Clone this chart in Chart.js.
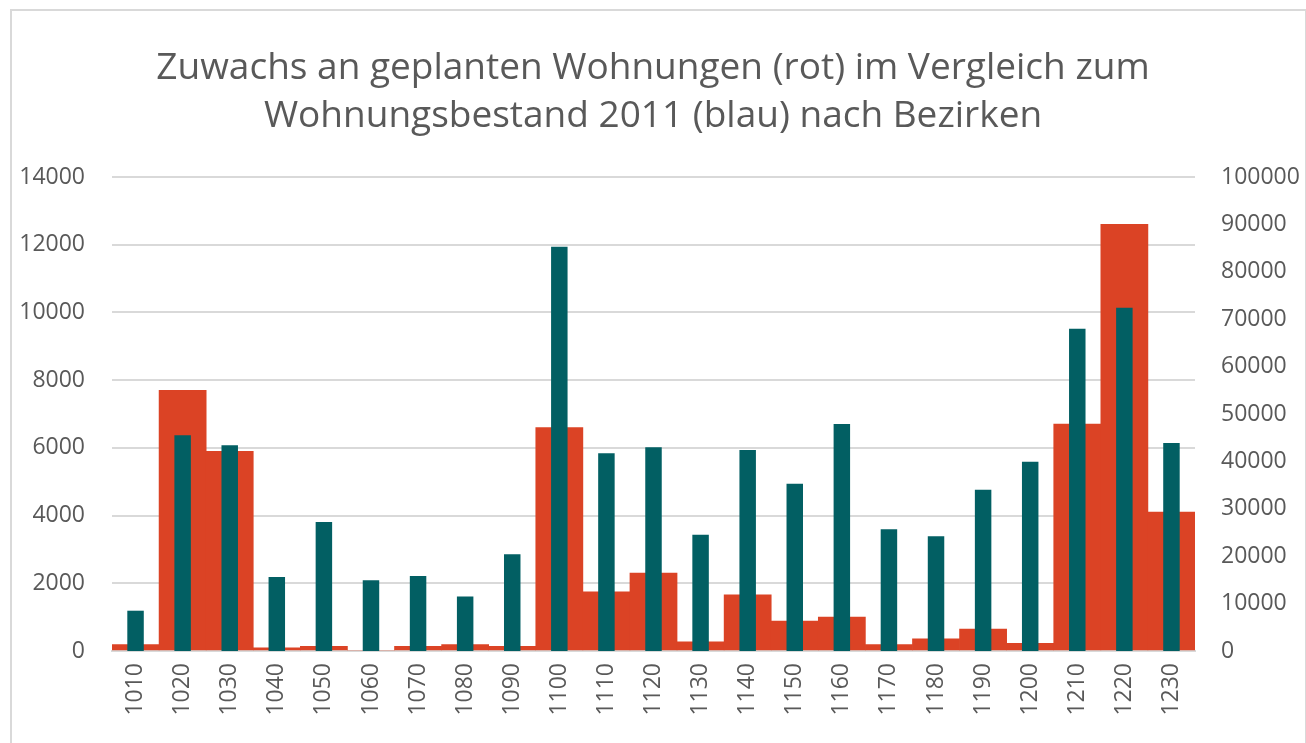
<!DOCTYPE html>
<html>
<head>
<meta charset="utf-8">
<script src="https://cdn.jsdelivr.net/npm/chart.js@4"></script>
<style>
  body { margin: 0; background: #fff; overflow: hidden; }
  #frame { position: absolute; left: 10px; top: 9px; width: 1293px; height: 760px; border: 2px solid #d9d9d9; pointer-events: none; }
  #wrap { position: absolute; left: 0; top: 0; width: 1306px; height: 743px; }
</style>
</head>
<body>
<div id="wrap"><canvas id="bezirkCanvas" width="1306" height="743"></canvas></div>
<div id="frame"></div>
<script>
  // Bezirke
  var bezirke = ['1010', '1020', '1030', '1040', '1050', '1060', '1070', '1080', '1090', '1100',
                 '1110', '1120', '1130', '1140', '1150', '1160', '1170', '1180', '1190', '1200',
                 '1210', '1220', '1230'];
  // geplante Wohnungen (rot, linke Achse)
  var zuwachs = [190, 7700, 5900, 90, 140, 0, 140, 190, 140, 6600,
                 1750, 2300, 270, 1660, 880, 1000, 190, 360, 650, 230,
                 6700, 12600, 4100];
  // Wohnungsbestand 2011 (blau, rechte Achse)
  var bestand = [8500, 45500, 43400, 15600, 27200, 14900, 15800, 11500, 20400, 85300,
                 41700, 43000, 24500, 42400, 35300, 47900, 25700, 24200, 34000, 39900,
                 68000, 72400, 43900];
  var titel = ['Zuwachs an geplanten Wohnungen (rot) im Vergleich zum',
               'Wohnungsbestand 2011 (blau) nach Bezirken'];

  var grau = '#595959';
  var schrift = "'Open Sans', sans-serif";
  function ohneTrenner(v) { return String(v); }

  var ctx = document.getElementById('bezirkCanvas').getContext('2d');
  var chart = new Chart(ctx, {
    type: 'bar',
    data: {
      labels: bezirke,
      datasets: [{
        label: 'Zuwachs',
        data: zuwachs,
        backgroundColor: '#DB4325',
        yAxisID: 'yLinks',
        grouped: false,
        barPercentage: 1,
        categoryPercentage: 1,
        order: 2
      }, {
        label: 'Bestand 2011',
        data: bestand,
        backgroundColor: '#025F63',
        yAxisID: 'yRechts',
        grouped: false,
        barPercentage: 0.35,
        categoryPercentage: 1,
        order: 1
      }]
    },
    options: {
      responsive: false,
      animation: false,
      layout: { padding: 0 },
      plugins: {
        legend: { display: false },
        tooltip: { enabled: false },
        title: {
          display: true,
          text: titel,
          color: grau,
          font: { family: schrift, size: 37, weight: 'normal', lineHeight: 1.297 },
          padding: { top: 44, bottom: 37 }
        }
      },
      scales: {
        x: {
          grid: { display: false, drawTicks: false },
          border: { display: true, color: '#d9d9d9', width: 2 },
          ticks: {
            color: grau, font: { family: schrift, size: 23 },
            minRotation: 90, maxRotation: 90, padding: 12, autoSkip: false
          },
          afterFit: function (s) { s.height = 92; }
        },
        yLinks: {
          position: 'left',
          min: 0, max: 14000,
          grid: { color: '#d9d9d9', lineWidth: 2, drawTicks: false },
          border: { display: false },
          ticks: { stepSize: 2000, color: grau, font: { family: schrift, size: 23 }, padding: 27, callback: ohneTrenner },
          afterFit: function (s) { s.width = 112; }
        },
        yRechts: {
          position: 'right',
          min: 0, max: 100000,
          grid: { display: false, drawTicks: false },
          border: { display: false },
          ticks: { stepSize: 10000, color: grau, font: { family: schrift, size: 23 }, padding: 26, callback: ohneTrenner },
          afterFit: function (s) { s.width = 111; }
        }
      }
    }
  });
</script>
</body>
</html>
